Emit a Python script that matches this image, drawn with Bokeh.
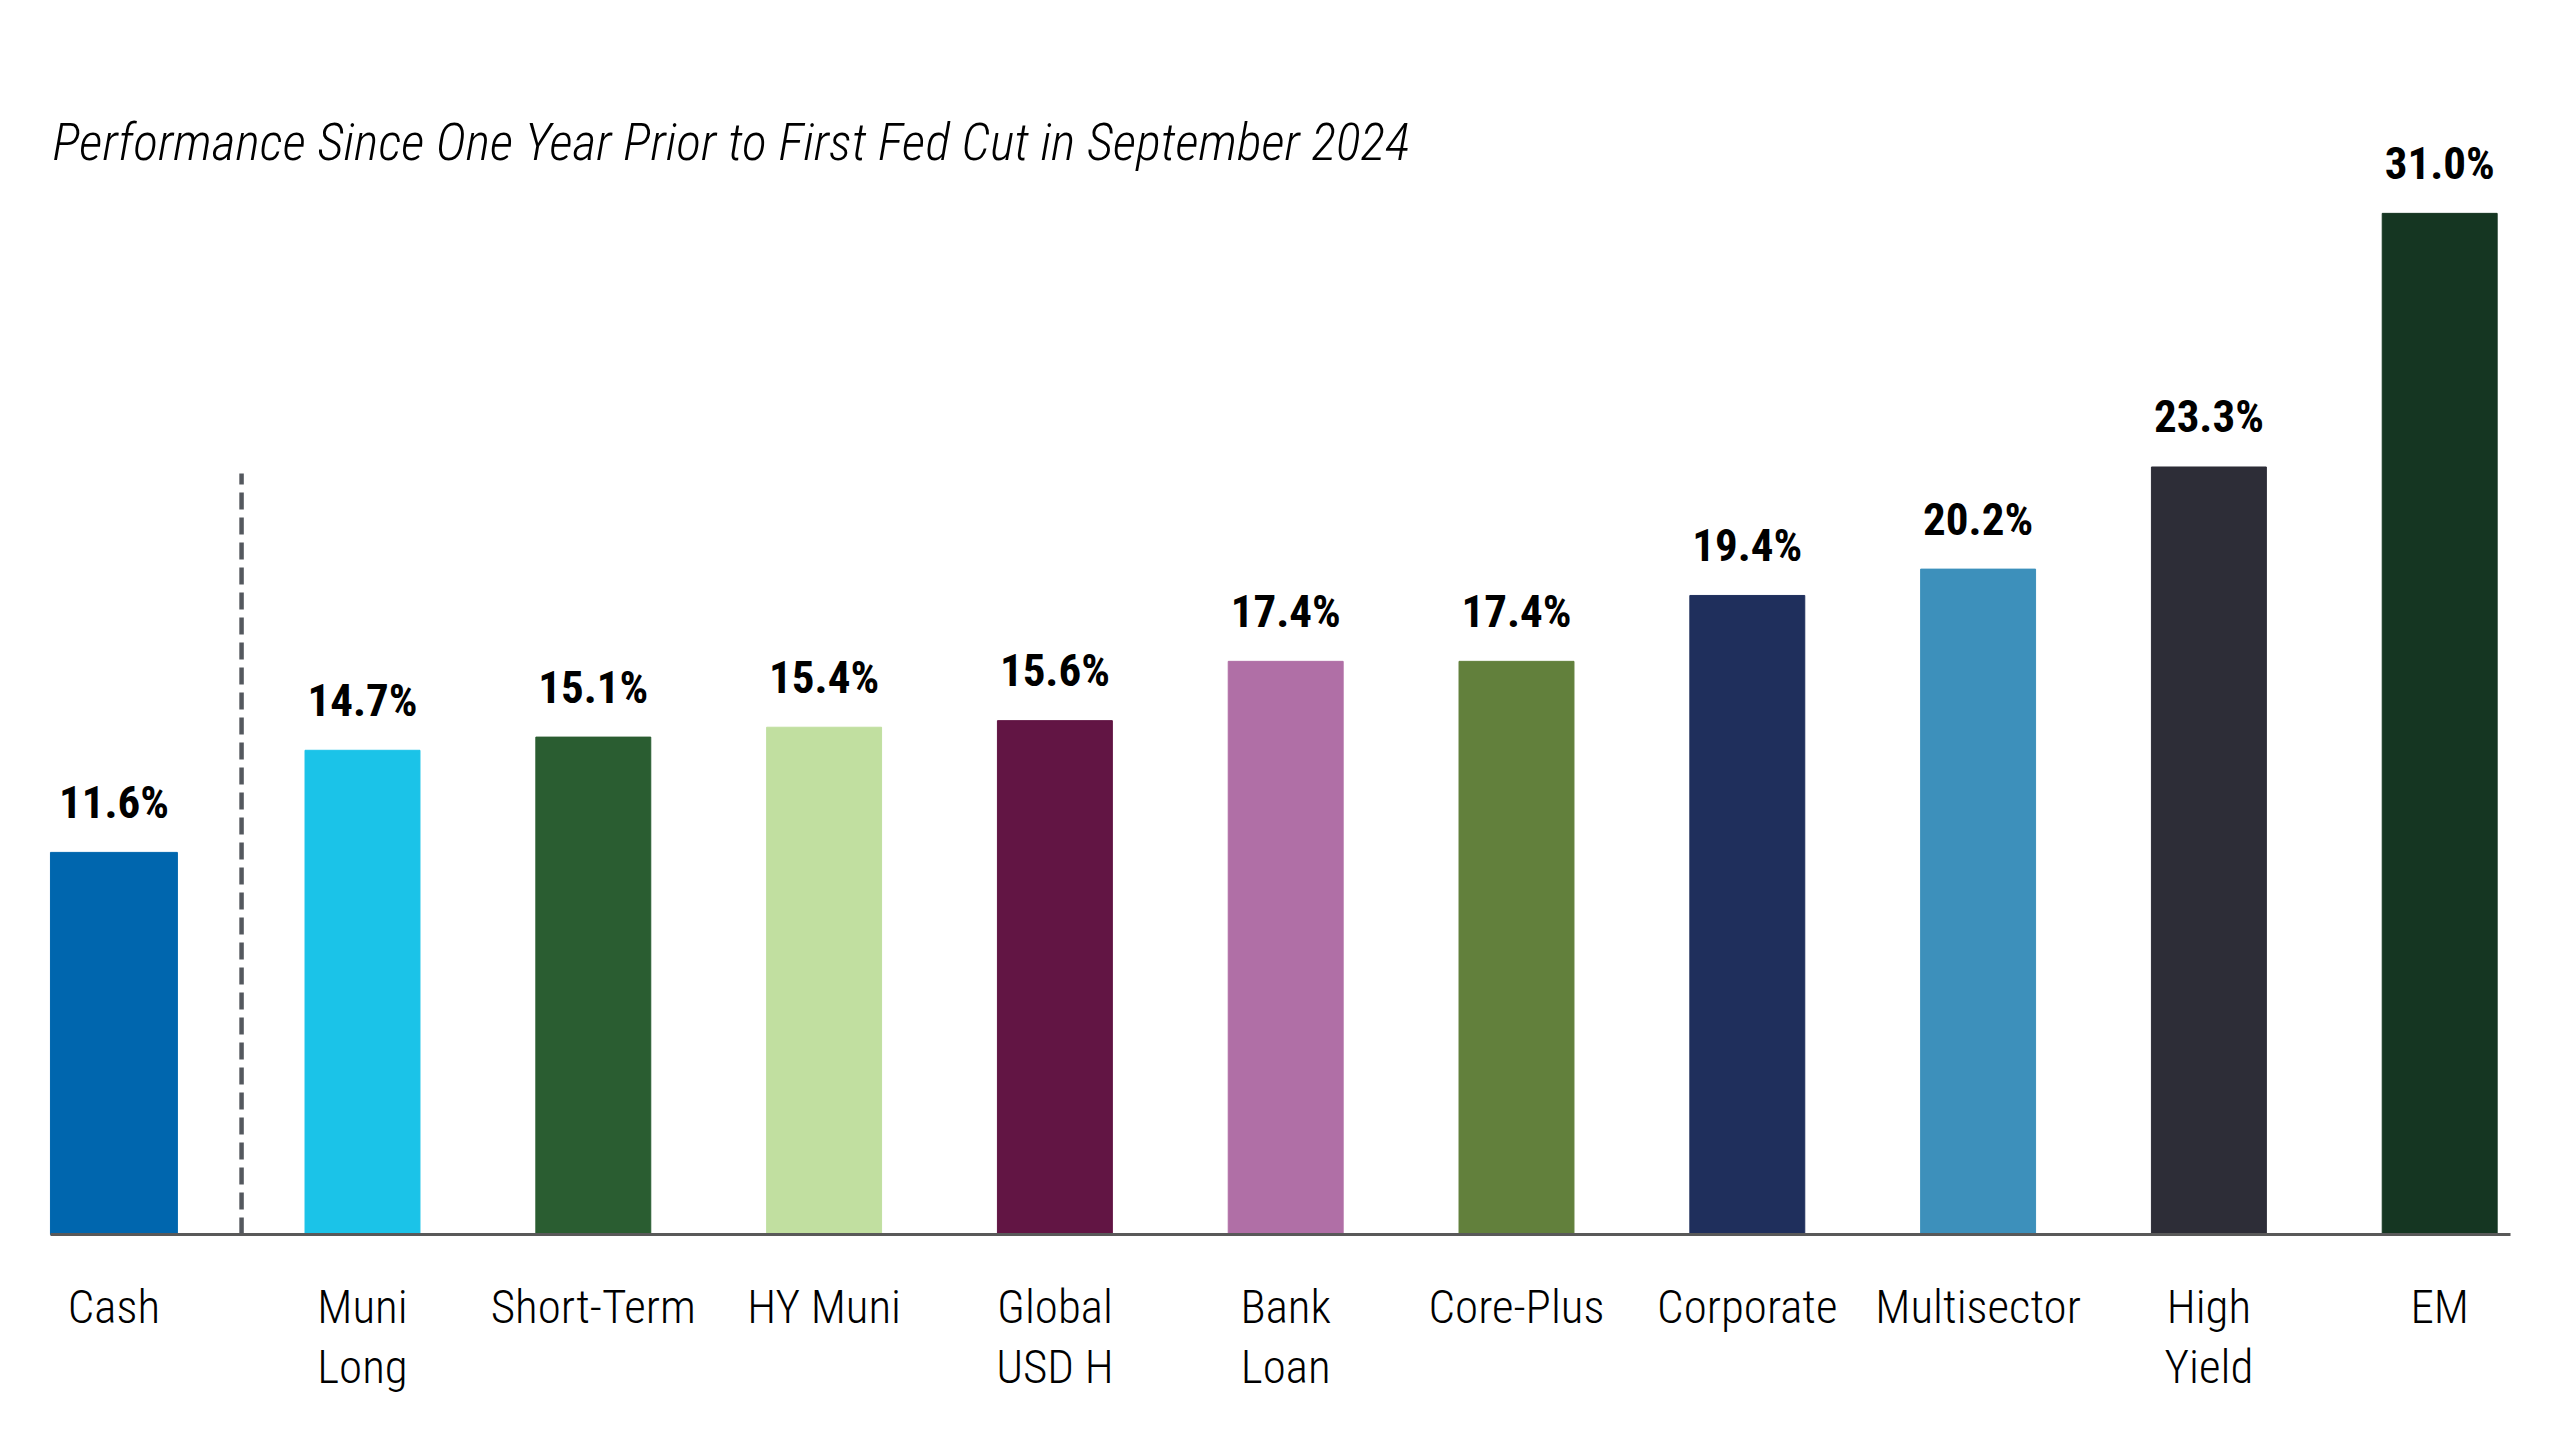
from bokeh.plotting import figure
from bokeh.models import Range1d
from bokeh.core.properties import value
from bokeh.embed import file_html
from bokeh.resources import INLINE

# ---- data ----
categories = ["Cash", "Muni\nLong", "Short-Term", "HY Muni", "Global\nUSD H", "Bank\nLoan",
              "Core-Plus", "Corporate", "Multisector", "High\nYield", "EM"]
returns = [11.6, 14.7, 15.1, 15.4, 15.6, 17.4, 17.4, 19.4, 20.2, 23.3, 31.0]
value_labels = ["11.6%", "14.7%", "15.1%", "15.4%", "15.6%", "17.4%", "17.4%", "19.4%", "20.2%", "23.3%", "31.0%"]
colors = ["#0066AE", "#1BC3E8", "#2A5D31", "#C1DFA0", "#621544", "#B06FA6",
          "#62803C", "#1F2F5C", "#3D90BB", "#2D2D37", "#153622"]
title_text = "Performance Since One Year Prior to First Fed Cut in September 2024"
divider_height = 23.1

# ---- layout (pixel geometry -> data units) ----
W, H = 2544, 1424
PITCH = 230.8           # px per category step
PX_PER_UNIT = 32.94     # px per 1% return
origin_x = 362          # px of first non-cash bar centre
baseline_y = 1234       # px (from top) of zero line

x_start = -origin_x / PITCH
x_end = (W - origin_x) / PITCH
y_end = baseline_y / PX_PER_UNIT
y_start = -(H - baseline_y) / PX_PER_UNIT

cash_offset = -1.077
xs = [cash_offset] + [float(i) for i in range(len(categories) - 1)]
widths = [0.55] + [0.498] * (len(categories) - 1)

LIGHT = "'Roboto Condensed Light', 'Roboto Condensed', 'Roboto Light', Roboto"
BOLD = "'Roboto Condensed', Roboto"

p = figure(width=W, height=H, output_backend="svg", toolbar_location=None,
           x_range=Range1d(x_start, x_end), y_range=Range1d(y_start, y_end),
           x_axis_type=None, y_axis_type=None, min_border=0,
           outline_line_color=None, background_fill_color="white",
           border_fill_color="white")

# bars
p.vbar(x=xs, top=returns, bottom=0, width=widths, fill_color=colors,
       line_color=colors, line_width=1)

# divider after cash
div_x = -0.524
p.line(x=[div_x, div_x], y=[0, divider_height], line_color="#54585E",
       line_width=4.5, line_dash="17 8")

# baseline
p.line(x=[(50 - origin_x) / PITCH, (2510 - origin_x) / PITCH], y=[0, 0],
       line_color="#595959", line_width=3)

# value labels
p.text(x=xs, y=returns, text=value_labels, text_align="center",
       text_baseline="alphabetic", y_offset=-50,
       text_font=value(BOLD), text_font_style="bold", text_font_size="45px",
       text_color="black")

# category labels (split into lines)
line1 = [c.split("\n")[0] for c in categories]
line2 = [c.split("\n")[1] if "\n" in c else "" for c in categories]
y_line1 = -(1306 - baseline_y) / PX_PER_UNIT
y_line2 = -(1366 - baseline_y) / PX_PER_UNIT
p.text(x=xs, y=[y_line1] * len(xs), text=line1, text_align="center",
       text_baseline="alphabetic", text_font=value(LIGHT),
       text_font_size="47px", text_color="black")
p.text(x=xs, y=[y_line2] * len(xs), text=line2, text_align="center",
       text_baseline="alphabetic", text_font=value(LIGHT),
       text_font_size="47px", text_color="black")

# title
p.text(x=[(52 - origin_x) / PITCH], y=[(baseline_y - 142) / PX_PER_UNIT], text=[title_text],
       text_align="left", text_baseline="alphabetic", text_font=value(LIGHT),
       text_font_style="italic", text_font_size="52px", text_color="black")

open("out.html", "w").write(file_html(p, INLINE))
